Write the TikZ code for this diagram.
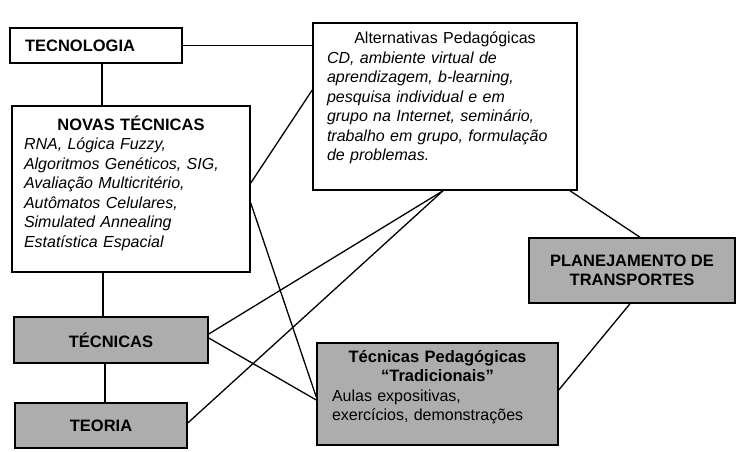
\documentclass[tikz,border=0pt]{standalone}
\usepackage{fontspec}
\setmainfont{Liberation Sans}
\usetikzlibrary{positioning}
\begin{document}
\begin{tikzpicture}[x=1pt,y=-1pt,
    caixa/.style={draw,line width=1.5pt,fill=white,inner sep=0pt,font=\fontsize{16}{19.5}\selectfont},
    cinza/.style={caixa,fill=black!32,font=\fontsize{16.5}{19.5}\selectfont\bfseries},
    negrito/.style={font=\fontsize{16.5}{19.5}\selectfont\bfseries},
    liga/.style={line width=1.3pt}]
    \useasboundingbox (0,0) rectangle (744,451);
    \node[caixa,negrito,minimum width=172pt,minimum height=35pt,text width=142pt,align=left] (tecnologia) at (96,45.5) {TECNOLOGIA};
    \node[caixa,minimum width=238pt,minimum height=166pt,text width=214pt,align=left,text depth=132pt] (novas) at (131,189)
        {\makebox[214pt]{\fontsize{16.5}{19.5}\selectfont\bfseries NOVAS TÉCNICAS}\\ \itshape
        RNA, Lógica Fuzzy,\\
        Algoritmos Genéticos, SIG,\\
        Avaliação Multicritério,\\
        Autômatos Celulares,\\
        Simulated Annealing\\
        Estatística Espacial};
    \node[caixa,minimum width=264pt,minimum height=167pt,text width=236pt,align=left,text depth=137pt] (alternativas) at (445,106.5)
        {\makebox[236pt]{Alternativas Pedagógicas}\\ \itshape
        CD, ambiente virtual de\\
        aprendizagem, b-learning,\\
        pesquisa individual e em\\
        grupo na Internet, seminário,\\
        trabalho em grupo, formulação\\
        de problemas.};
    \node[cinza,minimum width=194pt,minimum height=46pt] (tecnicas) at (111,340) {TÉCNICAS};
    \node[cinza,minimum width=172pt,minimum height=45pt] (teoria) at (101,425.5) {TEORIA};
    \node[cinza,minimum width=241pt,minimum height=102pt,text width=211pt,align=left,text depth=76pt,font=\fontsize{16}{19.5}\selectfont] (pedagogicas) at (437.5,394)
        {\makebox[211pt]{\fontsize{16.5}{19.5}\selectfont\bfseries Técnicas Pedagógicas}\\
        \makebox[211pt]{\fontsize{16.5}{19.5}\selectfont\bfseries “Tradicionais”}\\
        Aulas expositivas,\\
        exercícios, demonstrações};
    \node[cinza,minimum width=206pt,minimum height=65pt,align=center] (planejamento) at (632,270.5) {PLANEJAMENTO DE\\TRANSPORTES};
    \draw[liga] (tecnologia.east) -- (tecnologia.east -| alternativas.west);
    \draw[liga] (102,0 |- tecnologia.south) -- (102,0 |- novas.north);
    \draw[liga] (103,0 |- novas.south) -- (103,0 |- tecnicas.north);
    \draw[liga] (105,0 |- tecnicas.south) -- (105,0 |- teoria.north);
    \draw[liga] (novas.east |- 0,183) -- (alternativas.west |- 0,90);
    \draw[liga] (novas.east |- 0,203) -- (pedagogicas.west |- 0,397);
    \draw[liga] (tecnicas.east |- 0,334) -- (443,0 |- alternativas.south);
    \draw[liga] (teoria.east |- 0,423) -- (443,0 |- alternativas.south);
    \draw[liga] (tecnicas.east |- 0,338) -- (pedagogicas.west |- 0,400);
    \draw[liga] (570,0 |- alternativas.south) -- (640,0 |- planejamento.north);
    \draw[liga] (630,0 |- planejamento.south) -- (pedagogicas.east |- 0,390);
\end{tikzpicture}
\end{document}
